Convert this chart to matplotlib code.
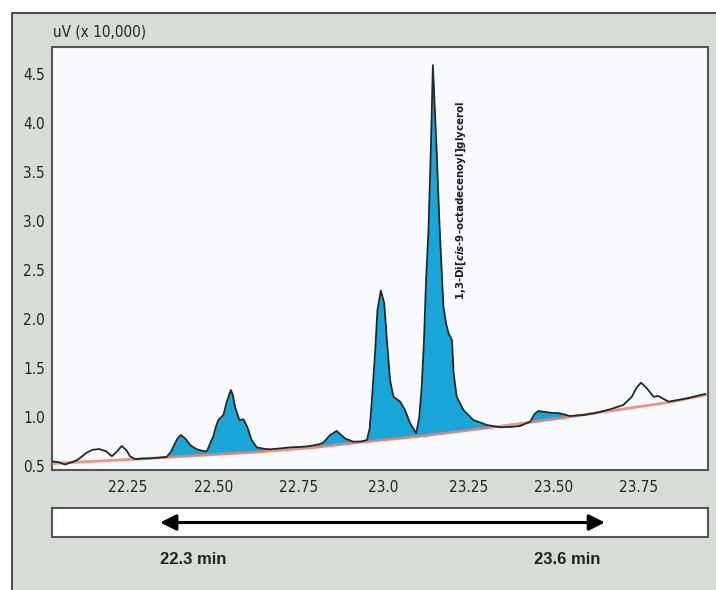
import matplotlib
matplotlib.use("Agg")
import matplotlib.pyplot as plt
import numpy as np
from matplotlib.patches import Rectangle

plt.rcParams['font.family'] = ['DejaVu Sans']
plt.rcParams['font.stretch'] = 'condensed'
plt.rcParams['mathtext.fontset'] = 'custom'
plt.rcParams['mathtext.it'] = 'DejaVu Sans:bold:italic'
plt.rcParams['mathtext.rm'] = 'DejaVu Sans:bold'

# Chromatogram trace: retention time (min) and detector signal (uV x 10,000)
time_min = [22.028, 22.045, 22.064, 22.085, 22.100, 22.115, 22.128, 22.145, 22.165, 22.185,
            22.202, 22.215, 22.231, 22.245, 22.255, 22.270, 22.290, 22.314, 22.340, 22.363,
            22.375, 22.383, 22.395, 22.405, 22.418, 22.432, 22.452, 22.468, 22.481, 22.490,
            22.500, 22.508, 22.515, 22.530, 22.540, 22.552, 22.558, 22.564, 22.577, 22.589,
            22.600, 22.613, 22.628, 22.650, 22.667, 22.700, 22.726, 22.760, 22.785, 22.810,
            22.824, 22.844, 22.863, 22.875, 22.888, 22.912, 22.935, 22.952, 22.960, 22.966,
            22.976, 22.983, 22.993, 23.003, 23.010, 23.020, 23.030, 23.050, 23.064, 23.079,
            23.097, 23.106, 23.113, 23.120, 23.126, 23.133, 23.140, 23.146, 23.157, 23.165,
            23.169, 23.177, 23.185, 23.192, 23.202, 23.207, 23.216, 23.236, 23.265, 23.305,
            23.344, 23.380, 23.402, 23.432, 23.445, 23.456, 23.491, 23.520, 23.549, 23.589,
            23.628, 23.667, 23.706, 23.731, 23.745, 23.758, 23.775, 23.795, 23.809, 23.839,
            23.893, 23.947]
signal = [0.545, 0.540, 0.515, 0.540, 0.560, 0.600, 0.636, 0.665, 0.673, 0.650,
          0.600, 0.640, 0.704, 0.660, 0.600, 0.570, 0.575, 0.578, 0.585, 0.592,
          0.640, 0.697, 0.780, 0.816, 0.780, 0.714, 0.670, 0.655, 0.648, 0.720,
          0.800, 0.900, 0.969, 1.020, 1.156, 1.276, 1.220, 1.105, 0.969, 0.976,
          0.900, 0.765, 0.690, 0.675, 0.670, 0.680, 0.690, 0.695, 0.704, 0.720,
          0.738, 0.816, 0.857, 0.820, 0.780, 0.748, 0.750, 0.765, 0.880, 1.143,
          1.650, 2.090, 2.290, 2.160, 1.820, 1.378, 1.207, 1.156, 1.070, 0.936,
          0.833, 1.000, 1.300, 1.790, 2.400, 2.900, 3.720, 4.590, 3.720, 3.000,
          2.700, 2.126, 1.950, 1.854, 1.786, 1.446, 1.207, 1.070, 0.969, 0.918,
          0.895, 0.900, 0.908, 0.952, 1.030, 1.061, 1.044, 1.037, 1.010, 1.020,
          1.044, 1.078, 1.122, 1.207, 1.300, 1.350, 1.293, 1.207, 1.214, 1.156,
          1.190, 1.235]

# Integration baseline
base_time = [22.026, 22.30, 22.48, 22.63, 22.80, 22.95, 23.10, 23.30, 23.52, 23.84, 23.947]
base_signal = [0.525, 0.575, 0.612, 0.642, 0.690, 0.748, 0.800, 0.885, 0.987, 1.150, 1.225]

# Integrated peak windows (start, end) in minutes
peak_windows = [(22.363, 22.481), (22.481, 22.650), (22.810, 22.912),
                (22.952, 23.097), (23.097, 23.310), (23.400, 23.640)]

y_ticks = [0.5, 1.0, 1.5, 2.0, 2.5, 3.0, 3.5, 4.0, 4.5]
y_tick_labels = ['0.5', '1.0', '1.5', '2.0', '2.5', '3.0', '3.5', '4.0', '4.5']
x_ticks = [22.25, 22.50, 22.75, 23.0, 23.25, 23.50, 23.75]
x_tick_labels = ['22.25', '22.50', '22.75', '23.0', '23.25', '23.50', '23.75']

window_start, window_end = 22.344, 23.652
window_labels = ['22.3 min', '23.6 min']
window_label_pos = [22.44, 23.54]

peak_label = r'1,3-Di[$\mathit{cis}$-9-octadecenoyl]glycerol'
peak_label_time = 23.229

W, H = 716, 590
fig = plt.figure(figsize=(W / 100, H / 100), dpi=100)
fig.patch.set_facecolor('white')

# grey panel behind everything
panel = Rectangle((12 / W, -0.1), 1.2, 1 - 13 / H + 0.1, transform=fig.transFigure,
                  facecolor='#d8dcd6', edgecolor='#4a4a4a', linewidth=1.4, zorder=-10)
fig.patches.append(panel)

ax = fig.add_axes([52 / W, 1 - 470 / H, 656 / W, 423 / H])
ax.set_facecolor('#f9fafd')
ax.set_xlim(22.026, 23.955)
ax.set_ylim(0.459, 4.776)

t = np.array(time_min)
s = np.array(signal)
b = np.interp(t, base_time, base_signal)
for t0, t1 in peak_windows:
    ax.fill_between(t, s, b, where=(t >= t0) & (t <= t1), interpolate=True,
                    color='#19a7da', linewidth=0, zorder=2)
ax.plot(base_time, base_signal, color='#f08070', linewidth=2.0, alpha=0.85, zorder=3)
ax.plot(time_min, signal, color='#1d2a2a', linewidth=1.3, zorder=4)

ax.set_xticks(x_ticks)
ax.set_xticklabels(x_tick_labels)
ax.set_yticks(y_ticks)
ax.set_yticklabels(y_tick_labels)
ax.tick_params(length=0, labelsize=11, colors='#222222')
ax.tick_params(axis='y', pad=5)
ax.tick_params(axis='x', pad=7)
for sp in ax.spines.values():
    sp.set_color('#555555')
    sp.set_linewidth(1.5)

ax.text(peak_label_time, 3.21, peak_label, rotation=90, ha='center', va='center',
        fontsize=8.2, fontweight='bold', color='#1a1a1a', zorder=5)

fig.text(53 / W, 1 - 32 / H, 'uV (x 10,000)', ha='left', va='center',
         fontsize=11, color='#222222')

# retention window bar
bar = fig.add_axes([52 / W, 1 - 537 / H, 656 / W, 29 / H])
bar.set_facecolor('white')
bar.set_xlim(ax.get_xlim())
bar.set_ylim(0, 1)
bar.set_xticks([])
bar.set_yticks([])
for sp in bar.spines.values():
    sp.set_color('#555555')
    sp.set_linewidth(1.5)
bar.annotate('', xy=(window_start, 0.5), xytext=(window_end, 0.5),
             arrowprops=dict(arrowstyle='<|-|>', color='black', lw=2.2,
                             mutation_scale=24, shrinkA=0, shrinkB=0))
for lbl, pos in zip(window_labels, window_label_pos):
    fig.text(52 / W + (pos - 22.026) / (23.955 - 22.026) * 656 / W, 1 - 560 / H, lbl,
             ha='center', va='center', fontsize=12, fontweight='bold',
             color='#222222', family=['Liberation Sans', 'DejaVu Sans'])

fig.savefig('out.png', dpi=100)
